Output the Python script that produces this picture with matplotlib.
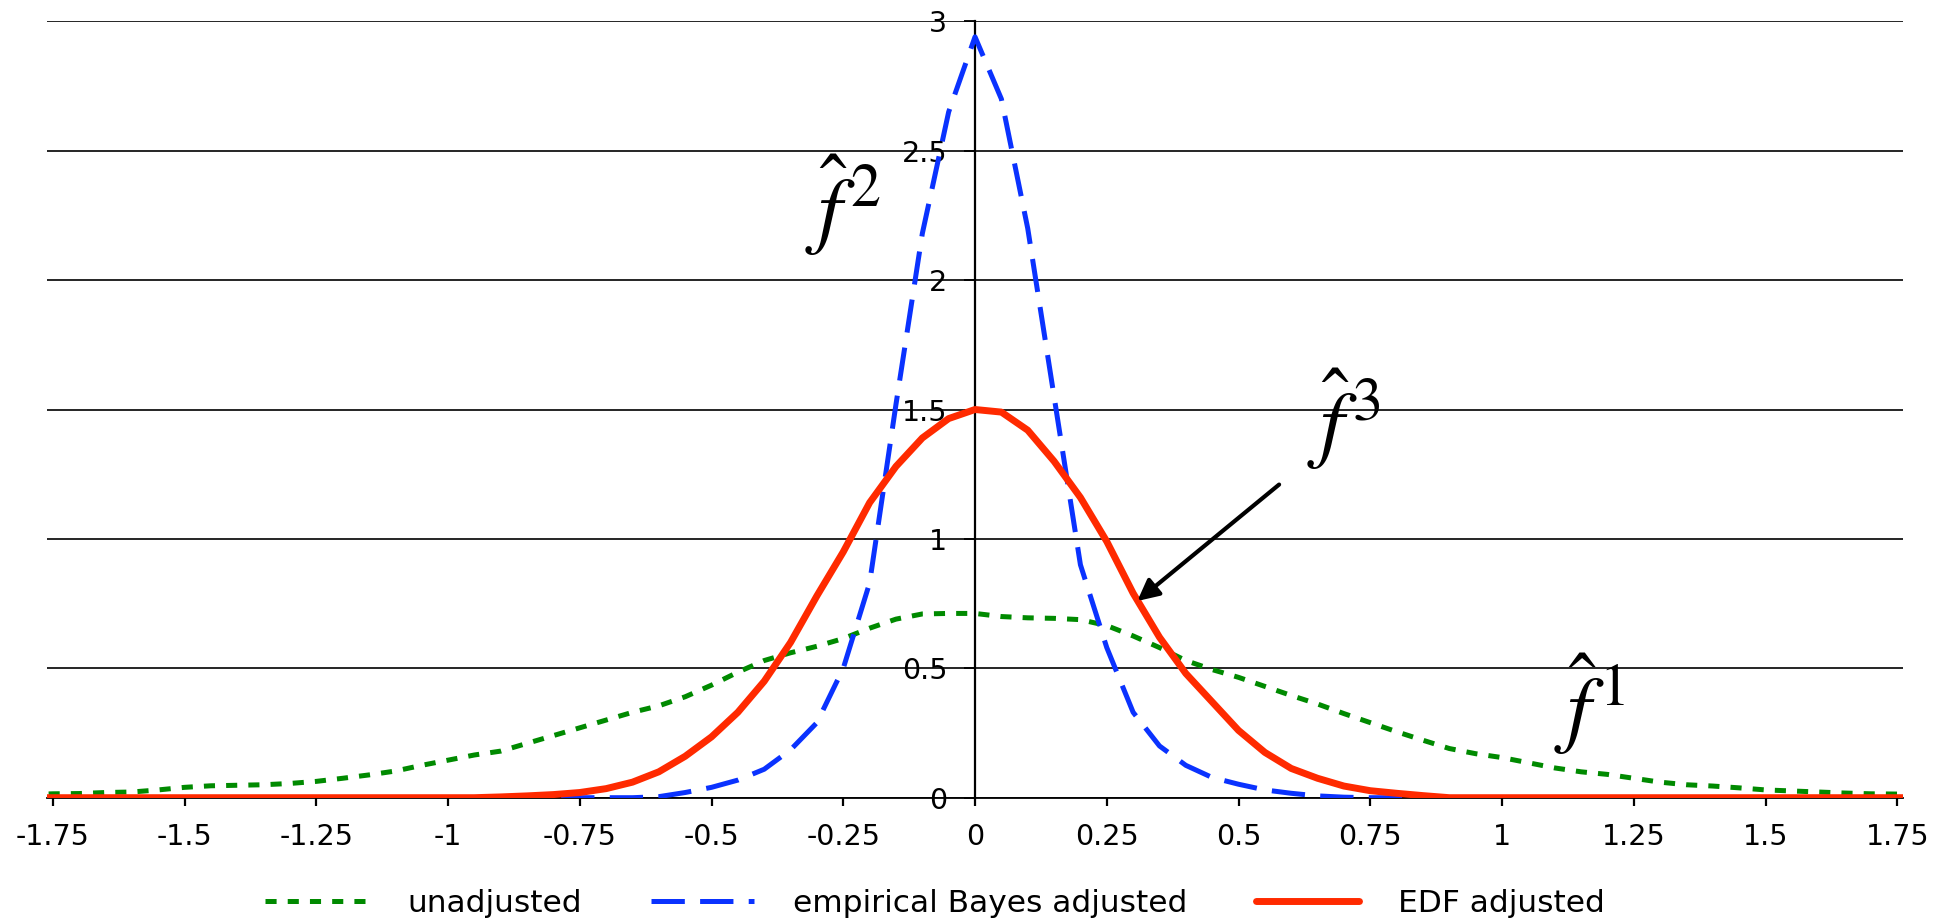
import numpy as np
import matplotlib
matplotlib.use("Agg")
import matplotlib.pyplot as plt

plt.rcParams['font.family'] = ['DejaVu Sans']
plt.rcParams['lines.scale_dashes'] = False

# x grid (step 0.05)
x = np.round(np.arange(-1.80, 1.8001, 0.05), 2)

unadjusted = [
    0.012, 0.015, 0.016, 0.020, 0.022, 0.030, 0.040, 0.046, 0.048, 0.050,
    0.055, 0.063, 0.075, 0.088, 0.103, 0.125, 0.145, 0.165, 0.180, 0.210,
    0.240, 0.270, 0.300, 0.330, 0.355, 0.390, 0.435, 0.485, 0.530, 0.560,
    0.585, 0.615, 0.655, 0.690, 0.710, 0.712, 0.712, 0.700, 0.695, 0.693,
    0.688, 0.665, 0.625, 0.580, 0.530, 0.495, 0.465, 0.430, 0.395, 0.362,
    0.325, 0.290, 0.255, 0.222, 0.190, 0.170, 0.155, 0.135, 0.115, 0.100,
    0.090, 0.075, 0.060, 0.050, 0.045, 0.038, 0.030, 0.026, 0.022, 0.018,
    0.015, 0.014, 0.012,
]

eb_adjusted = [
    0, 0, 0, 0, 0, 0, 0, 0, 0, 0,
    0, 0, 0, 0, 0, 0, 0, 0, 0, 0,
    0, 0, 0, 0, 0.004, 0.020, 0.040, 0.068, 0.110, 0.185,
    0.290, 0.500, 0.830, 1.520, 2.180, 2.650, 2.940, 2.700, 2.200, 1.550,
    0.900, 0.580, 0.330, 0.200, 0.125, 0.078, 0.052, 0.030, 0.017, 0.007,
    0.002, 0, 0, 0, 0, 0, 0, 0, 0, 0,
    0, 0, 0, 0, 0, 0, 0, 0, 0, 0,
    0, 0, 0,
]

edf_adjusted = [
    0, 0, 0, 0, 0, 0, 0, 0, 0, 0,
    0, 0, 0, 0, 0, 0, 0, 0, 0.003, 0.007,
    0.012, 0.020, 0.035, 0.060, 0.100, 0.160, 0.235, 0.330, 0.450, 0.600,
    0.780, 0.950, 1.140, 1.280, 1.390, 1.465, 1.500, 1.490, 1.420, 1.300,
    1.160, 0.990, 0.790, 0.620, 0.480, 0.370, 0.260, 0.175, 0.113, 0.075,
    0.045, 0.027, 0.017, 0.008, 0, 0, 0, 0, 0, 0,
    0, 0, 0, 0, 0, 0, 0, 0, 0, 0,
    0, 0, 0,
]

series_labels = ["unadjusted", "empirical Bayes adjusted", "EDF adjusted"]
x_ticks = [-1.75, -1.5, -1.25, -1, -0.75, -0.5, -0.25, 0, 0.25, 0.5, 0.75, 1, 1.25, 1.5, 1.75]
x_ticklabels = ["-1.75", "-1.5", "-1.25", "-1", "-0.75", "-0.5", "-0.25", "0",
                "0.25", "0.5", "0.75", "1", "1.25", "1.5", "1.75"]
y_ticks = [0, 0.5, 1, 1.5, 2, 2.5, 3]
y_ticklabels = ["0", "0.5", "1", "1.5", "2", "2.5", "3"]

GREEN = "#008a00"
BLUE = "#0a32ff"
RED = "#ff2a00"

fig = plt.figure(figsize=(19.49, 9.19), dpi=100)
ax = fig.add_axes([0.02437, 0.132, 0.9518, 0.8448])

ax.plot(x, unadjusted, color=GREEN, lw=3.6, dashes=(8, 8),
        dash_capstyle='butt', label=series_labels[0], zorder=3)
ax.plot(x, eb_adjusted, color=BLUE, lw=3.6, dashes=(24, 11), dash_capstyle='butt',
        label=series_labels[1], zorder=4)
ax.plot(x, edf_adjusted, color=RED, lw=5.0, solid_capstyle='round',
        label=series_labels[2], zorder=5)

ax.set_xlim(-1.76, 1.76)
ax.set_ylim(0, 3)

ax.spines['left'].set_position(('data', 0))
ax.spines['left'].set_linewidth(1.6)
ax.spines['left'].set_zorder(2)
for s in ['top', 'right']:
    ax.spines[s].set_visible(False)
ax.spines['bottom'].set_linewidth(1.3)

ax.set_xticks(x_ticks)
ax.set_xticklabels(x_ticklabels, fontsize=20.5)
ax.set_yticks(y_ticks)
ax.set_yticklabels(y_ticklabels, fontsize=20.5)
ax.tick_params(axis='x', direction='out', length=6, width=1.6, pad=12)
ax.tick_params(axis='y', direction='out', length=8, width=1.3, pad=12)

ax.yaxis.grid(True, color='black', lw=1.2, zorder=1)
ax.set_axisbelow(True)

mt = dict(fontsize=62, math_fontfamily='stix', ha='center', va='center', color='black')
ax.text(-0.25, 2.29, r"$\hat{f}^{\,2}$", **mt)
ax.text(0.70, 1.46, r"$\hat{f}^{\,3}$", **mt)
ax.text(1.165, 0.36, r"$\hat{f}^{\,1}$", **mt)

ax.annotate('', xy=(0.308, 0.76), xytext=(0.577, 1.21),
            arrowprops=dict(arrowstyle='-|>', lw=3, color='black', mutation_scale=32,
                            shrinkA=0, shrinkB=0), zorder=6)

fig.legend(loc='center', bbox_to_anchor=(935 / 1949, 1 - 903 / 919), ncol=3,
           frameon=False, fontsize=22.5, handlelength=3.3, handletextpad=1.25,
           columnspacing=2.2)

fig.savefig("out.png", dpi=100)
